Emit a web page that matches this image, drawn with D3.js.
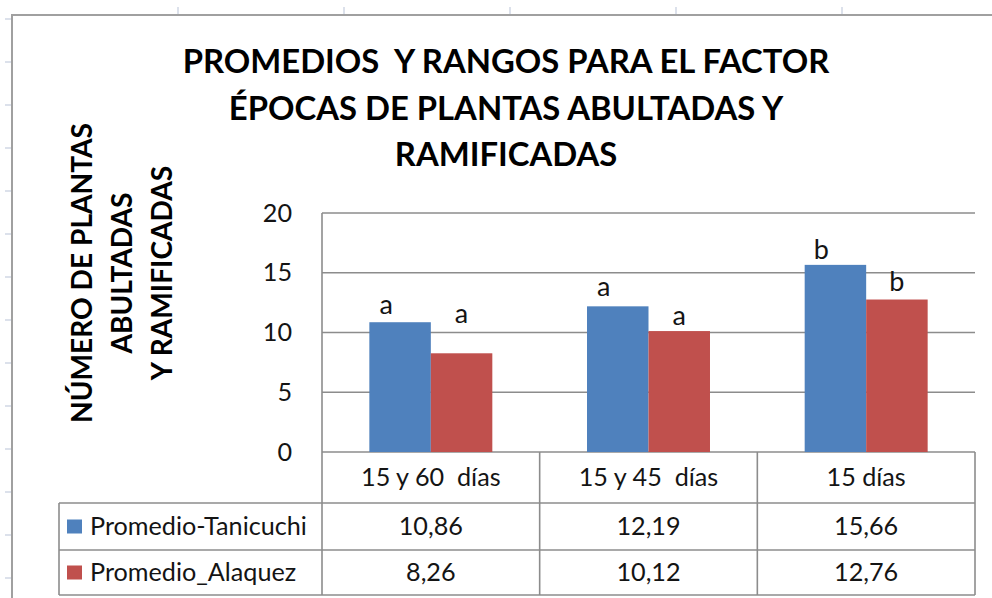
<!DOCTYPE html>
<html>
<head>
<meta charset="utf-8">
<script src="https://cdn.jsdelivr.net/npm/d3@7"></script>
<style>
  html, body { margin: 0; padding: 0; background: #fff; }
  svg { display: block; }
  text { white-space: pre; font-family: Lato, "Open Sans", sans-serif; }
</style>
</head>
<body>
<svg id="chart" width="992" height="598"></svg>
<script>
// ---------------- DATA ----------------
const categories = ["15 y 60  días", "15 y 45  días", "15 días"];
const seriesNames = ["Promedio-Tanicuchi", "Promedio_Alaquez"];
const tanicuchi = [10.86, 12.19, 15.66];
const alaquez = [8.26, 10.12, 12.76];
const tanicuchiLetters = ["a", "a", "b"];
const alaquezLetters = ["a", "a", "b"];
const yTicks = [0, 5, 10, 15, 20];
const titleLines = ["PROMEDIOS  Y RANGOS PARA EL FACTOR", "ÉPOCAS DE PLANTAS ABULTADAS Y", "RAMIFICADAS"];
const yTitleLines = ["NÚMERO DE PLANTAS", "ABULTADAS", "Y RAMIFICADAS"];

// ---------------- LAYOUT / STYLE ----------------
const colors = ["#4F81BD", "#C0504D"];
const gridColor = "#8c8c8c";
const textColor = "#141414";
const plot = { left: 322, right: 975, top: 213, bottom: 452 };
const table = { legendLeft: 59, rowBottoms: [503, 550, 595] };
const letterDx = [-14, 0];                 // per-series horizontal nudge of letters
const letterLift = [[0, 2, -2], [22, -2, 1]]; // extra lift of hand-placed letters

const series = [tanicuchi, alaquez];
const seriesLetters = [tanicuchiLetters, alaquezLetters];
const fmt = d3.formatLocale({ decimal: ",", thousands: ".", grouping: [3], currency: ["", ""] }).format(".2f");

const svg = d3.select("#chart");

// helper: font size so that text fits a target width
function fitSize(txt, weight, target) {
  const t = svg.append("text").attr("font-size", 100).attr("font-weight", weight).text(txt);
  const w = t.node().getComputedTextLength();
  t.remove();
  return 100 * target / w;
}

// ---------------- spreadsheet background ----------------
const sheet = svg.append("g");
d3.range(178, 992, 166).forEach(x =>
  sheet.append("line").attr("x1", x).attr("x2", x).attr("y1", 7).attr("y2", 15)
    .attr("stroke", "#d0d7e5").attr("stroke-width", 1.5));
d3.range(19, 598, 43).forEach(y =>
  sheet.append("line").attr("x1", 5).attr("x2", 12).attr("y1", y).attr("y2", y)
    .attr("stroke", "#d0d7e5").attr("stroke-width", 1.5));

// chart area border
svg.append("path").attr("d", "M12,598 V15 H992")
  .attr("fill", "none").attr("stroke", "#a0a0a0").attr("stroke-width", 2);

// ---------------- scales ----------------
const x = d3.scaleBand().domain(categories).range([plot.left, plot.right]).paddingInner(0).paddingOuter(0);
const xSub = d3.scaleBand().domain(d3.range(series.length)).range([0, x.bandwidth()]).paddingInner(0).paddingOuter(0.77);
const y = d3.scaleLinear().domain([0, 20]).range([plot.bottom, plot.top]);

// ---------------- gridlines ----------------
svg.append("g").selectAll("line").data(yTicks).join("line")
  .attr("x1", plot.left).attr("x2", plot.right)
  .attr("y1", d => y(d)).attr("y2", d => y(d))
  .attr("stroke", gridColor).attr("stroke-width", 1.6);

// left axis line
svg.append("line").attr("x1", plot.left).attr("x2", plot.left)
  .attr("y1", plot.top).attr("y2", plot.bottom)
  .attr("stroke", gridColor).attr("stroke-width", 1.6);

// y tick labels via d3 axis
const tickSize = fitSize("Promedio-Tanicuchi", 400, 217);
const yAxis = svg.append("g").attr("transform", `translate(${plot.left - 30},0)`)
  .call(d3.axisLeft(y).tickValues(yTicks).tickSize(0).tickPadding(0));
yAxis.select(".domain").remove();
yAxis.selectAll("text").attr("font-size", tickSize).attr("fill", textColor)
  .attr("font-family", "Lato, 'Open Sans', sans-serif").attr("x", 0);

// ---------------- bars ----------------
series.forEach((vals, s) => {
  svg.append("g").selectAll("rect").data(vals).join("rect")
    .attr("x", (d, i) => x(categories[i]) + xSub(s))
    .attr("width", xSub.bandwidth())
    .attr("y", d => y(d))
    .attr("height", d => y(0) - y(d))
    .attr("fill", colors[s]);
});

// significance letters
const letterSize = 27;
series.forEach((vals, s) => {
  svg.append("g").selectAll("text").data(vals).join("text")
    .attr("x", (d, i) => x(categories[i]) + xSub(s) + xSub.bandwidth() / 2 + letterDx[s])
    .attr("y", (d, i) => y(d) - 8 - letterLift[s][i])
    .attr("text-anchor", "middle")
    .attr("font-size", letterSize).attr("fill", textColor)
    .text((d, i) => seriesLetters[s][i]);
});

// ---------------- data table ----------------
const tg = svg.append("g");
const tLine = (x1, y1, x2, y2) => tg.append("line").attr("x1", x1).attr("y1", y1).attr("x2", x2).attr("y2", y2)
  .attr("stroke", gridColor).attr("stroke-width", 1.6);
// horizontal lines
table.rowBottoms.forEach(yy => tLine(table.legendLeft, yy, plot.right, yy));
// vertical lines
tLine(plot.left, plot.bottom, plot.left, table.rowBottoms[2]);
categories.forEach(c => tLine(x(c) + x.bandwidth(), plot.bottom, x(c) + x.bandwidth(), table.rowBottoms[2]));
tLine(table.legendLeft, table.rowBottoms[0], table.legendLeft, table.rowBottoms[2]);

// category row
tg.selectAll("text.cat").data(categories).join("text").attr("class", "cat")
  .attr("x", d => x(d) + x.bandwidth() / 2)
  .attr("y", (plot.bottom + table.rowBottoms[0]) / 2)
  .attr("dy", "0.35em").attr("text-anchor", "middle")
  .attr("font-size", tickSize).attr("fill", textColor).text(d => d);

// value rows
series.forEach((vals, s) => {
  const top = table.rowBottoms[s], bot = table.rowBottoms[s + 1];
  const cy = (top + bot) / 2;
  tg.append("g").selectAll("text").data(vals).join("text")
    .attr("x", (d, i) => x(categories[i]) + x.bandwidth() / 2)
    .attr("y", cy).attr("dy", "0.35em").attr("text-anchor", "middle")
    .attr("font-size", tickSize).attr("fill", textColor)
    .text(d => fmt(d));
  tg.append("rect").attr("x", 67).attr("y", cy - 7).attr("width", 15).attr("height", 14)
    .attr("fill", colors[s]);
  tg.append("text").attr("x", 90).attr("y", cy).attr("dy", "0.35em")
    .attr("font-size", tickSize).attr("fill", textColor).text(seriesNames[s]);
});

// ---------------- titles ----------------
const titleSize = fitSize(titleLines[0], 700, 647);
svg.append("g").selectAll("text").data(titleLines).join("text")
  .attr("x", 506).attr("y", (d, i) => 73 + i * 46.5)
  .attr("text-anchor", "middle").attr("font-weight", 700)
  .attr("font-size", titleSize).attr("fill", "#000").text(d => d);

const yTitleSize = fitSize(yTitleLines[0], 700, 300);
svg.append("g").selectAll("text").data(yTitleLines).join("text")
  .attr("transform", (d, i) => `translate(${92 + i * 40},273) rotate(-90)`)
  .attr("text-anchor", "middle").attr("font-weight", 700)
  .attr("font-size", yTitleSize).attr("fill", "#000").text(d => d);
</script>
</body>
</html>
